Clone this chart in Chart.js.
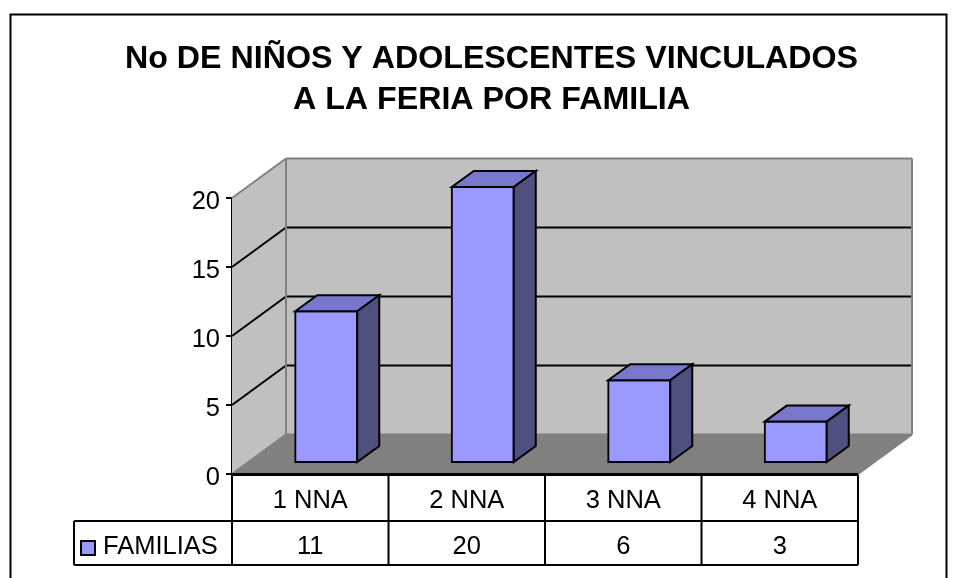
<!DOCTYPE html>
<html><head><meta charset="utf-8">
<style>html,body{margin:0;padding:0;background:#fff;overflow:hidden}canvas{display:block}</style>
<script src="https://cdn.jsdelivr.net/npm/chart.js@4/dist/chart.umd.min.js"></script>
</head><body><canvas id="c" width="957" height="578"></canvas>
<script>
const titleLines = ['No DE NIÑOS Y ADOLESCENTES VINCULADOS', 'A LA FERIA POR FAMILIA'];
const categories = ['1 NNA', '2 NNA', '3 NNA', '4 NNA'];
const seriesName = 'FAMILIAS';
const familias = [11, 20, 6, 3];
const yTicks = [0, 5, 10, 15, 20];

const FONT = '"Liberation Sans", Arial, sans-serif';
const LABEL_SIZE = 25.5;
const WALL = [54, -39.5], BAR_SHIFT = [16, -11], BAR_DEPTH = [22, -16];
const poly = (ctx, pts, fill, stroke, lw) => {
  ctx.beginPath();
  pts.forEach((p, i) => i ? ctx.lineTo(p[0], p[1]) : ctx.moveTo(p[0], p[1]));
  ctx.closePath();
  if (fill) { ctx.fillStyle = fill; ctx.fill(); }
  if (stroke) { ctx.strokeStyle = stroke; ctx.lineWidth = lw; ctx.lineJoin = 'miter'; ctx.stroke(); }
};
const line = (ctx, x1, y1, x2, y2, color, lw) => {
  ctx.beginPath(); ctx.moveTo(x1, y1); ctx.lineTo(x2, y2);
  ctx.strokeStyle = color; ctx.lineWidth = lw; ctx.stroke();
};
const scene = {
  id: 'scene',
  afterLayout(chart) {
    const t = chart.titleBlock;
    t.left = 125; t.right = 858;
  },
  beforeDraw(chart) {
    const ctx = chart.ctx;
    ctx.save();
    ctx.strokeStyle = '#000'; ctx.lineWidth = 2;
    ctx.strokeRect(10.5, 14.5, 936, 600);
    ctx.restore();
  },
  beforeDatasetsDraw(chart) {
    const ctx = chart.ctx, a = chart.chartArea, y = chart.scales.y;
    const [dx, dy] = WALL;
    const y0 = y.getPixelForValue(0), yT = y.getPixelForValue(yTicks[yTicks.length - 1]);
    ctx.save();
    poly(ctx, [[a.left, yT], [a.left + dx, yT + dy], [a.left + dx, y0 + dy], [a.left, y0]], '#c0c0c0');
    poly(ctx, [[a.left + dx, yT + dy], [a.right + dx, yT + dy], [a.right + dx, y0 + dy], [a.left + dx, y0 + dy]], '#c0c0c0');
    poly(ctx, [[a.left, y0], [a.right, y0], [a.right + dx, y0 + dy], [a.left + dx, y0 + dy]], '#808080');
    yTicks.forEach(v => {
      const p = y.getPixelForValue(v);
      const edge = v === 0 || v === yTicks[yTicks.length - 1];
      const c = edge ? '#808080' : '#000';
      line(ctx, a.left, p, a.left + dx, p + dy, c, 2);
      line(ctx, a.left + dx, p + dy, a.right + dx, p + dy, c, 2);
    });
    line(ctx, a.left + dx, yT + dy, a.left + dx, y0 + dy, '#808080', 2);
    line(ctx, a.right + dx, yT + dy, a.right + dx, y0 + dy, '#808080', 2);
    line(ctx, a.right, y0, a.right + dx, y0 + dy, '#808080', 2);
    ctx.translate(BAR_SHIFT[0], BAR_SHIFT[1]);
  },
  afterDatasetsDraw(chart) {
    const ctx = chart.ctx;
    const [ex, ey] = BAR_DEPTH;
    chart.getDatasetMeta(0).data.forEach(bar => {
      const p = bar.getProps(['x', 'y', 'base', 'width'], true);
      const l = p.x - p.width / 2, r = p.x + p.width / 2, t = p.y, b = p.base;
      poly(ctx, [[l, t], [r, t], [r + ex, t + ey], [l + ex, t + ey]], '#7777cc', '#000', 2);
      poly(ctx, [[r, t], [r + ex, t + ey], [r + ex, b + ey], [r, b]], '#4f4f80', '#000', 2);
    });
    ctx.restore();
  },
  afterDraw(chart) {
    const ctx = chart.ctx, a = chart.chartArea, x = chart.scales.x;
    const rows = [a.bottom + 0.5, 521, 565], tableLeft = 74;
    ctx.save();
    line(ctx, a.left, rows[0], a.right, rows[0], '#000', 3);
    line(ctx, tableLeft, rows[1], a.right, rows[1], '#000', 2);
    line(ctx, tableLeft, rows[2], a.right, rows[2], '#000', 2);
    line(ctx, tableLeft, rows[1], tableLeft, rows[2], '#000', 2);
    const band = (a.right - a.left) / categories.length;
    for (let i = 0; i <= categories.length; i++) {
      line(ctx, a.left + i * band, rows[0], a.left + i * band, rows[2], '#000', 2);
    }
    ctx.fillStyle = '#000'; ctx.font = LABEL_SIZE + 'px ' + FONT;
    ctx.textBaseline = 'middle'; ctx.textAlign = 'center';
    familias.forEach((v, i) => ctx.fillText(String(v), x.getPixelForValue(i), 547));
    ctx.textAlign = 'left';
    ctx.fillText(seriesName, 103, 547);
    poly(ctx, [[81, 541], [95, 541], [95, 555], [81, 555]], '#9999ff', '#000', 2);
    ctx.restore();
  }
};
new Chart(document.getElementById('c'), {
  type: 'bar',
  data: { labels: categories, datasets: [{ label: seriesName, data: familias, backgroundColor: '#9999ff', borderColor: '#000', borderWidth: 2, borderSkipped: false, inflateAmount: 1, barThickness: 62 }] },
  options: {
    responsive: false, animation: false,
    layout: { padding: { left: 0, right: 99, top: 0, bottom: 0 } },
    plugins: {
      legend: { display: false }, tooltip: { enabled: false },
      title: { display: true, text: titleLines, color: '#000', font: { family: FONT, size: 32.2, weight: 'bold', lineHeight: 1.273 }, padding: { top: 39, bottom: 77 } }
    },
    scales: {
      x: {
        afterFit(s) { s.height = 104; },
        grid: { display: false }, border: { display: false },
        ticks: { color: '#000', padding: 4, maxRotation: 0, font: { family: FONT, size: LABEL_SIZE } }
      },
      y: {
        min: 0, max: 20,
        afterFit(s) { s.width = 232; },
        afterBuildTicks(s) { s.ticks = yTicks.map(v => ({ value: v })); },
        grid: { drawOnChartArea: false, drawTicks: true, tickLength: 6, color: '#000', lineWidth: 2 },
        border: { display: true, color: '#000', width: 2 },
        ticks: { color: '#000', padding: 6, labelOffset: 4, font: { family: FONT, size: LABEL_SIZE } }
      }
    }
  },
  plugins: [scene]
});
</script></body></html>
